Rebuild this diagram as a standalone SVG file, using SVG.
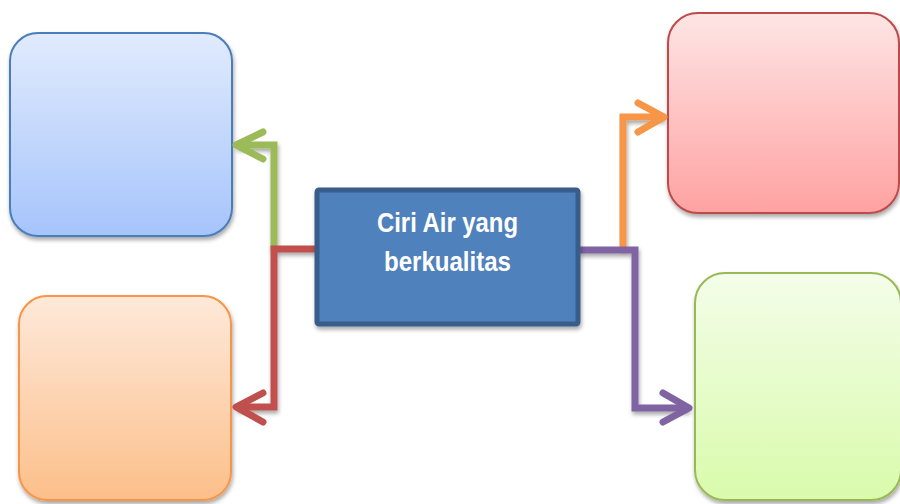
<svg xmlns="http://www.w3.org/2000/svg" width="900" height="504" viewBox="0 0 900 504">
<defs>
<linearGradient id="gBlue" x1="0" y1="0" x2="0" y2="1"><stop offset="0" stop-color="#e1ebfd"/><stop offset="1" stop-color="#a6c4fb"/></linearGradient>
<linearGradient id="gOrange" x1="0" y1="0" x2="0" y2="1"><stop offset="0" stop-color="#fee9da"/><stop offset="1" stop-color="#fcbf8a"/></linearGradient>
<linearGradient id="gRed" x1="0" y1="0" x2="0" y2="1"><stop offset="0" stop-color="#fee5e5"/><stop offset="1" stop-color="#ffa2a2"/></linearGradient>
<linearGradient id="gGreen" x1="0" y1="0" x2="0" y2="1"><stop offset="0" stop-color="#f4fde9"/><stop offset="1" stop-color="#d9fbab"/></linearGradient>
<filter id="sh" x="-10%" y="-10%" width="130%" height="130%">
<feGaussianBlur in="SourceAlpha" stdDeviation="2"/>
<feOffset dx="1" dy="3" result="b"/>
<feComponentTransfer><feFuncA type="linear" slope="0.35"/></feComponentTransfer>
<feMerge><feMergeNode/><feMergeNode in="SourceGraphic"/></feMerge>
</filter>
</defs>
<style>
.box{stroke-width:2;filter:url(#sh)}
.ln{fill:none;stroke-width:7;stroke-linejoin:miter;filter:url(#sh)}
.hd{fill:none;stroke-width:7;stroke-linecap:round;stroke-linejoin:round}
.t{font-family:"Liberation Sans",Arial,sans-serif;font-weight:bold;font-size:28px;fill:#ffffff;text-anchor:middle}
</style>
<g id="node-blue"><rect class="box" x="10" y="33" width="222" height="203" rx="28" fill="url(#gBlue)" stroke="#4a7ebb"/></g>
<g id="node-orange"><rect class="box" x="19" y="296" width="212" height="204" rx="28" fill="url(#gOrange)" stroke="#f79646"/></g>
<g id="node-red"><rect class="box" x="668" y="13" width="231" height="200" rx="30" fill="url(#gRed)" stroke="#be4b48"/></g>
<g id="node-green"><rect class="box" x="695" y="273" width="206" height="227" rx="30" fill="url(#gGreen)" stroke="#98b954"/></g>
<g id="connectors">
<g stroke="#9bbb59"><path class="ln" d="M274 249 V145 H236"/><polyline class="hd" points="263,132 236,145 263,159"/></g>
<g stroke="#c0504d"><path class="ln" d="M316 249 H274 V407 H236"/><polyline class="hd" points="263,393 236,407 263,422"/></g>
<g stroke="#f79646"><path class="ln" d="M623 249 V117 H664"/><polyline class="hd" points="638,103 664,117 638,132"/></g>
<g stroke="#8064a2"><path class="ln" d="M579 250 H635 V408 H689"/><polyline class="hd" points="663,393 689,408 663,422"/></g>
</g>
<g id="node-center">
<rect x="317" y="190" width="261" height="134" fill="#4f81bd" stroke="#385d8a" stroke-width="5" rx="2" filter="url(#sh)"/>
<text class="t" x="447.5" y="232" textLength="141" lengthAdjust="spacingAndGlyphs">Ciri Air yang</text>
<text class="t" x="447.5" y="271" textLength="127" lengthAdjust="spacingAndGlyphs">berkualitas</text>
</g>
</svg>
